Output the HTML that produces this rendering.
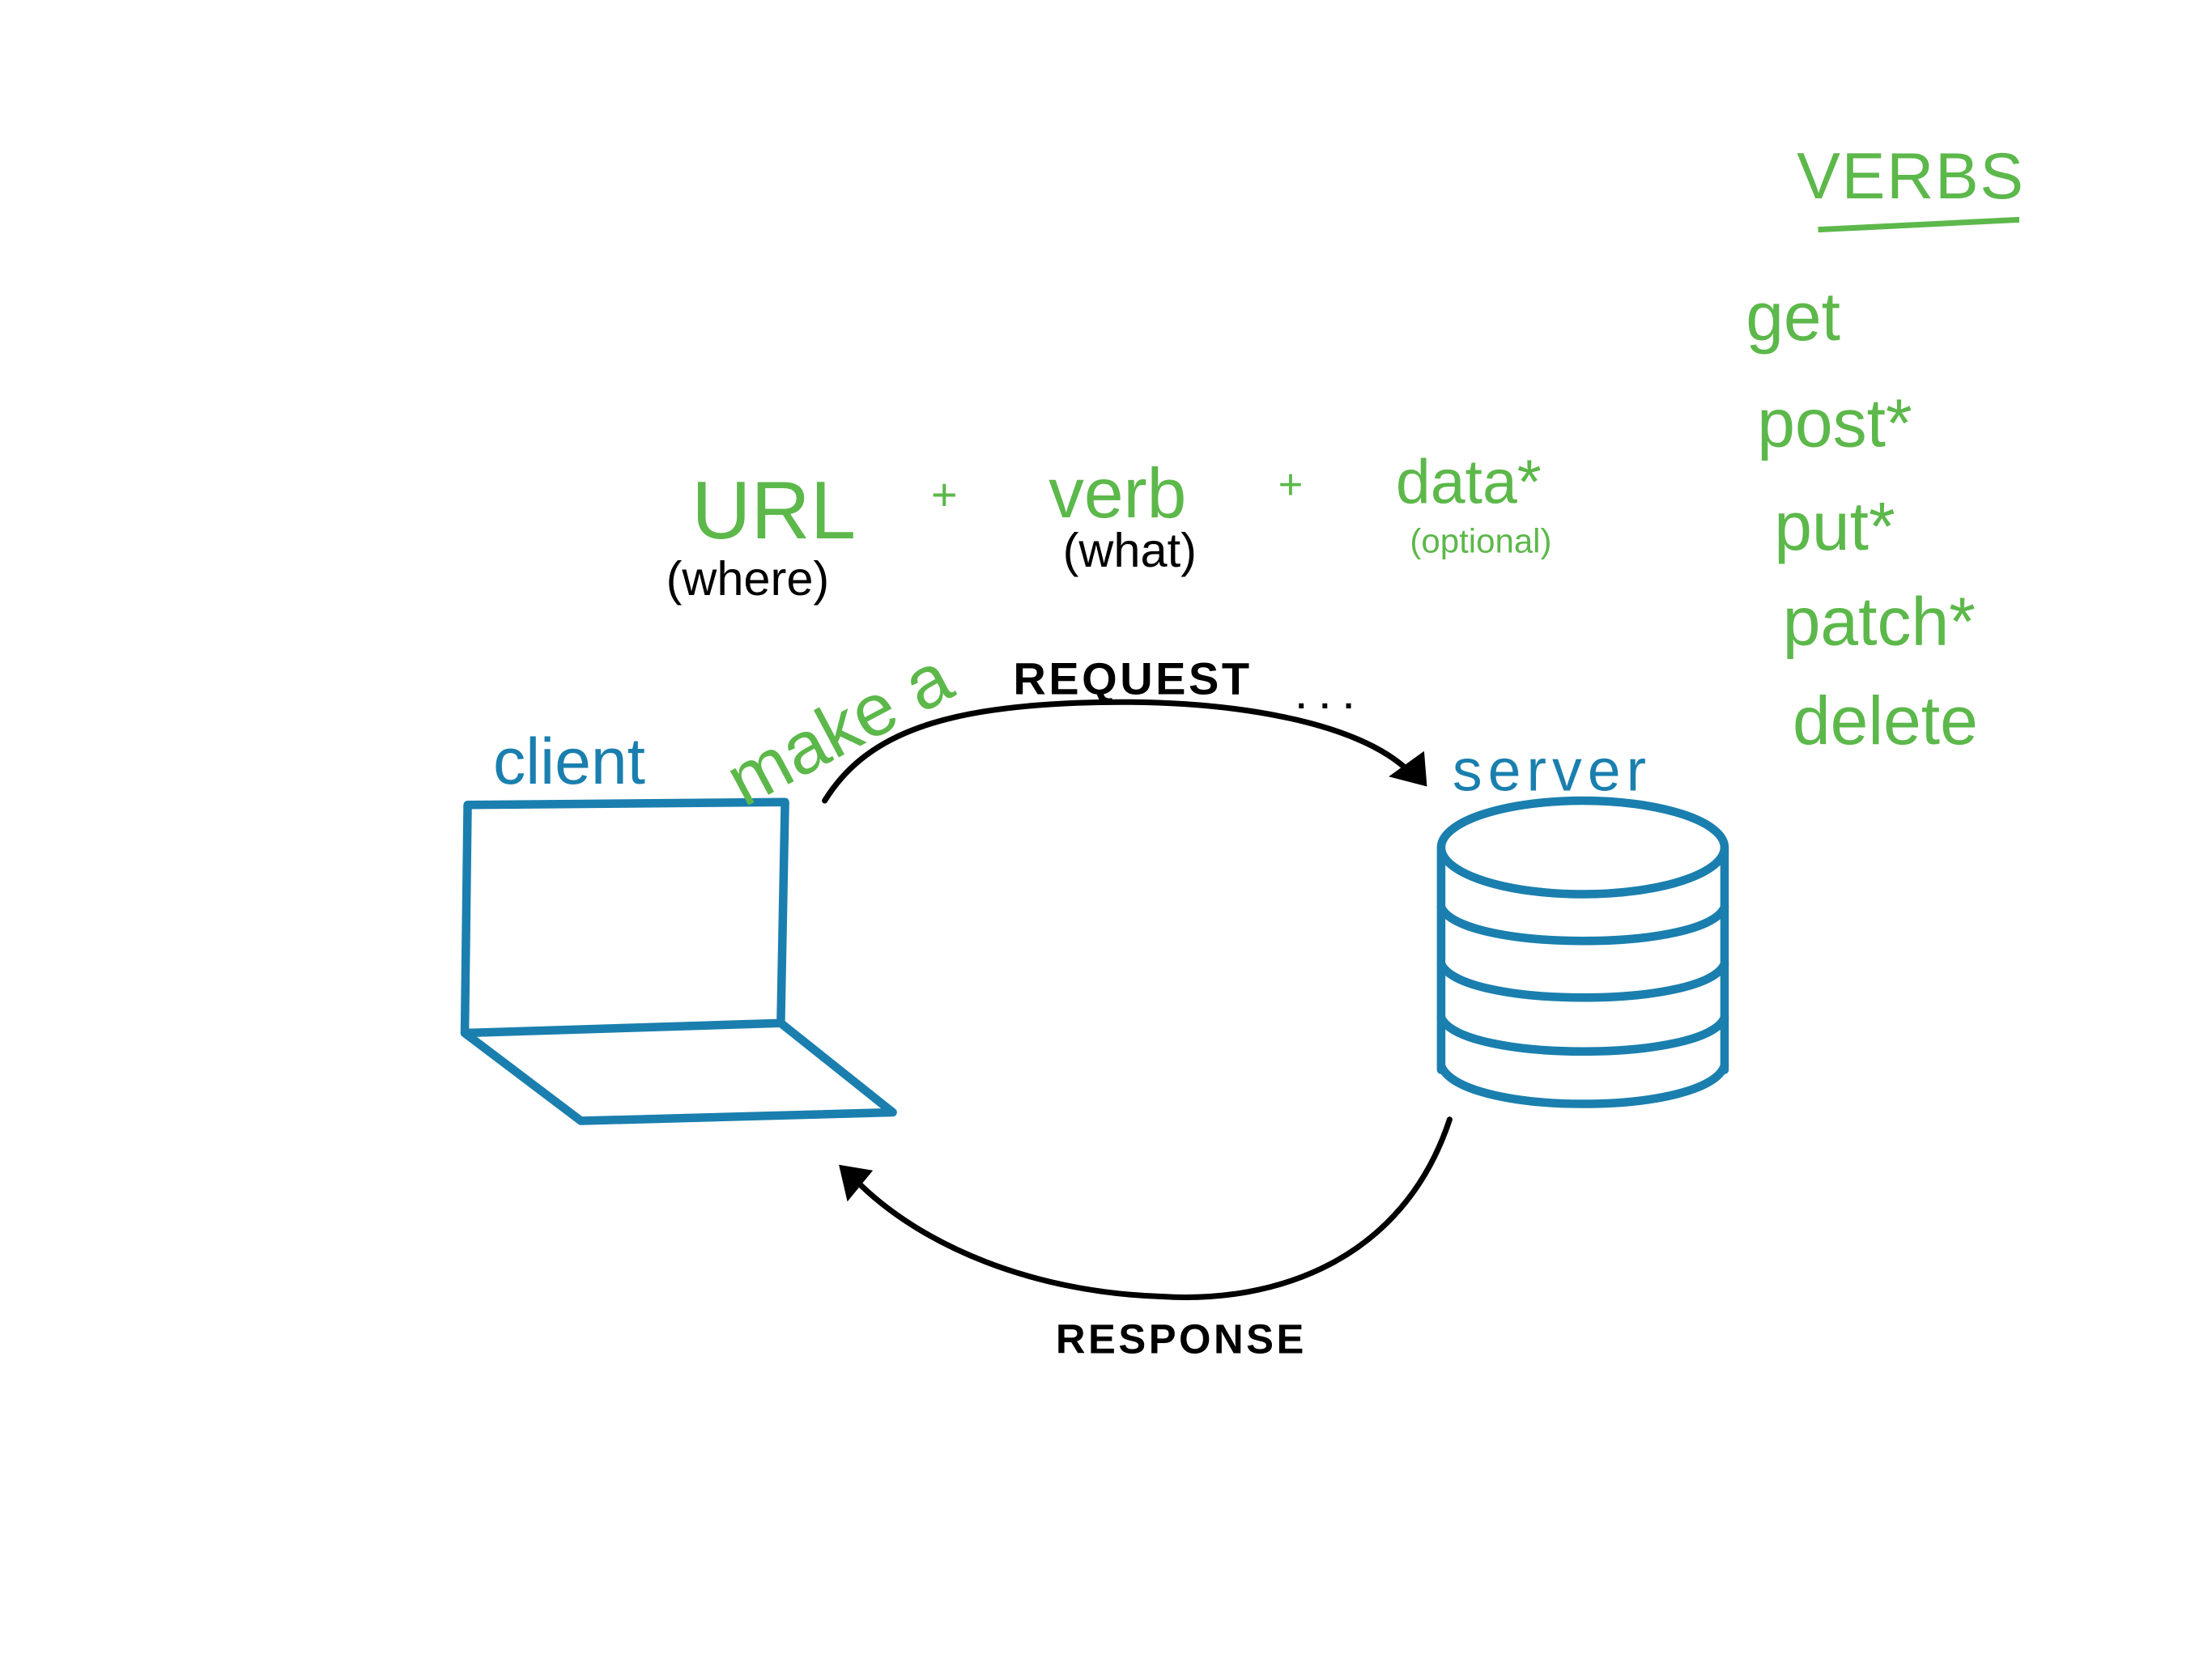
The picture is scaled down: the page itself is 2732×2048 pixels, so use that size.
<!DOCTYPE html>
<html><head><meta charset="utf-8"><style>
html,body{margin:0;padding:0;background:#fff;}
svg{display:block;}
text{font-family:"Liberation Sans",sans-serif;}
</style></head><body>
<svg width="2732" height="2048" viewBox="0 0 1561 1170" xmlns="http://www.w3.org/2000/svg">
<rect width="1561" height="1170" fill="#fff"/>
<g fill="none" stroke="#1a7fae" stroke-width="6" stroke-linejoin="round" stroke-linecap="round">
<path d="M330 568 L554 566 L551 722 L328 729 Z"/>
<path d="M328 729 L410 791 L630 785 L551 722"/>
<ellipse cx="1117" cy="598" rx="100" ry="33"/>
<path d="M1017 598 L1017 755 M1217 598 L1217 755"/>
<path d="M1017 640 C1030 672 1205 672 1217 640"/>
<path d="M1017 680 C1030 712 1205 712 1217 680"/>
<path d="M1017 718 C1030 750 1205 750 1217 718"/>
<path d="M1017 752 C1030 788 1205 788 1217 752"/>
</g>
<g fill="#1a7fae">
<text x="348" y="553" font-size="46">client</text>
<text x="1025" y="558" font-size="42" letter-spacing="4">server</text>
</g>
<g fill="none" stroke="#000" stroke-width="4" stroke-linecap="round">
<path d="M582 565 C610 520 660 500 760 496 C870 492 960 510 995 545"/>
<path d="M1023 790 C990 890 900 920 820 915 C730 912 650 880 603 832"/>
</g>
<polygon points="980,548 1005,530 1007,555" fill="#000"/>
<polygon points="592,822 616,826 598,848" fill="#000"/>
<g fill="#5cb84a">
<text x="525" y="570" font-size="52" transform="rotate(-28 525 570)">make a</text>
<text x="488" y="380" font-size="58">URL</text>
<text x="657" y="360" font-size="32">+</text>
<text x="740" y="365" font-size="50">verb</text>
<text x="902" y="352" font-size="30">+</text>
<text x="985" y="355" font-size="44">data*</text>
<text x="995" y="390" font-size="24">(optional)</text>
<text x="1268" y="140" font-size="46" letter-spacing="1">VERBS</text>
<text x="1232" y="240" font-size="48">get</text>
<text x="1240" y="315" font-size="48">post*</text>
<text x="1252" y="388" font-size="48">put*</text>
<text x="1258" y="455" font-size="48">patch*</text>
<text x="1265" y="525" font-size="48">delete</text>
</g>
<path d="M1283 162 L1425 155" stroke="#5cb84a" stroke-width="4" fill="none"/>
<g fill="#000" font-weight="bold">
<text x="715" y="490" font-size="32" letter-spacing="2">REQUEST</text>
<text x="915" y="500" font-size="24" letter-spacing="10">...</text>
<text x="470" y="420" font-size="34" font-weight="normal">(where)</text>
<text x="750" y="400" font-size="34" font-weight="normal">(what)</text>
<text x="745" y="955" font-size="29" letter-spacing="2">RESPONSE</text>
</g>
</svg>
</body></html>
